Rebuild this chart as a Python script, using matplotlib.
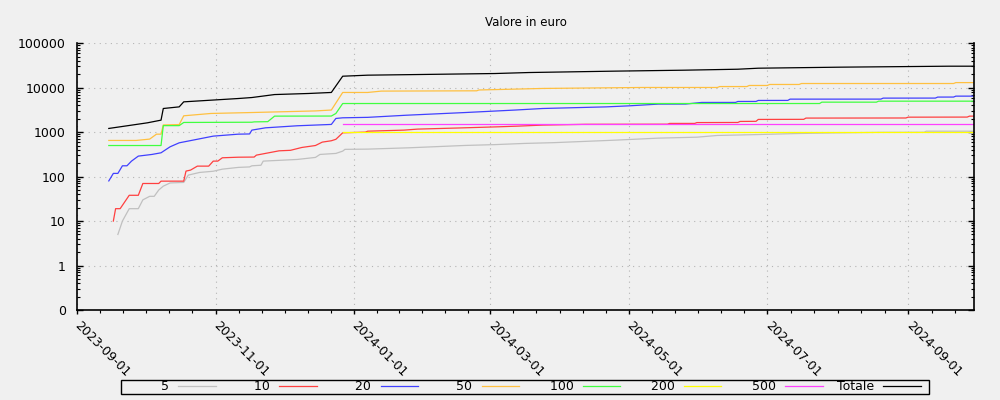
import matplotlib
matplotlib.use("Agg")
import matplotlib.pyplot as plt
import matplotlib.dates as mdates
from matplotlib.patches import Rectangle
from matplotlib.ticker import FixedLocator, LogLocator, NullFormatter
import numpy as np
import pandas as pd

BG = "#f0f0f0"

# valori (euro cumulati per taglio)
dates_5 = ["2023-09-19", "2023-09-21", "2023-09-24", "2023-09-28", "2023-09-30", "2023-10-03",
           "2023-10-05", "2023-10-07", "2023-10-09", "2023-10-12", "2023-10-18", "2023-10-20",
           "2023-10-25", "2023-10-31", "2023-11-04", "2023-11-11", "2023-11-16", "2023-11-17",
           "2023-11-21", "2023-11-22", "2023-12-07", "2023-12-15", "2023-12-17", "2023-12-24",
           "2023-12-27", "2023-12-28", "2024-01-07", "2024-01-25", "2024-02-19", "2024-03-03",
           "2024-03-16", "2024-03-29", "2024-04-25", "2024-05-14", "2024-05-31", "2024-06-09",
           "2024-06-26", "2024-07-14", "2024-07-30", "2024-08-20", "2024-09-08", "2024-09-09",
           "2024-09-30"]
vals_5 = [5, 10, 19, 19, 30, 36, 36, 50, 61, 72, 74, 108, 124, 132, 147, 161, 165, 175, 180, 223,
          243, 270, 315, 332, 374, 410, 415, 444, 502, 524, 557, 580, 660, 733, 770, 842, 880,
          930, 960, 990, 995, 1050, 1050]

dates_10 = ["2023-09-17", "2023-09-18", "2023-09-20", "2023-09-24", "2023-09-28", "2023-09-30",
            "2023-10-07", "2023-10-08", "2023-10-18", "2023-10-19", "2023-10-21", "2023-10-24",
            "2023-10-29", "2023-10-31", "2023-11-02", "2023-11-04", "2023-11-11", "2023-11-18",
            "2023-11-19", "2023-11-29", "2023-12-04", "2023-12-09", "2023-12-15", "2023-12-18",
            "2023-12-22", "2023-12-24", "2023-12-27", "2024-01-06", "2024-01-07", "2024-01-23",
            "2024-01-29", "2024-02-16", "2024-03-05", "2024-03-14", "2024-03-24", "2024-04-12",
            "2024-05-18", "2024-05-19", "2024-05-30", "2024-05-31", "2024-06-18", "2024-06-19",
            "2024-06-26", "2024-06-27", "2024-07-17", "2024-07-18", "2024-08-31", "2024-09-01",
            "2024-09-27", "2024-09-28", "2024-09-30"]
vals_10 = [10, 19, 19, 38, 38, 70, 70, 79, 79, 133, 140, 172, 172, 223, 223, 265, 273, 275, 304,
           380, 390, 452, 500, 596, 640, 690, 965, 1000, 1050, 1110, 1170, 1240, 1320, 1370, 1440,
           1500, 1510, 1570, 1570, 1640, 1650, 1740, 1750, 1930, 1940, 2070, 2080, 2170, 2180,
           2290, 2290]

dates_20 = ["2023-09-15", "2023-09-17", "2023-09-19", "2023-09-21", "2023-09-23", "2023-09-25",
            "2023-09-28", "2023-10-04", "2023-10-08", "2023-10-12", "2023-10-16", "2023-10-22",
            "2023-10-31", "2023-11-11", "2023-11-16", "2023-11-17", "2023-11-23", "2023-12-07",
            "2023-12-22", "2023-12-24", "2023-12-27", "2024-01-07", "2024-01-24", "2024-02-19",
            "2024-03-12", "2024-03-24", "2024-04-21", "2024-05-01", "2024-05-14", "2024-05-26",
            "2024-06-02", "2024-06-17", "2024-06-18", "2024-06-26", "2024-06-27", "2024-07-10",
            "2024-07-11", "2024-08-20", "2024-08-21", "2024-09-13", "2024-09-14", "2024-09-21",
            "2024-09-22", "2024-09-30"]
vals_20 = [80, 118, 118, 175, 175, 223, 289, 315, 343, 468, 575, 660, 813, 900, 910, 1110, 1250,
           1390, 1490, 2030, 2100, 2150, 2400, 2760, 3140, 3400, 3700, 3900, 4270, 4280, 4650,
           4660, 4890, 4900, 5160, 5170, 5520, 5530, 5820, 5830, 6140, 6150, 6450, 6450]

dates_50 = ["2023-09-15", "2023-09-27", "2023-10-03", "2023-10-06", "2023-10-08", "2023-10-09",
            "2023-10-16", "2023-10-18", "2023-10-30", "2023-11-17", "2023-12-15", "2023-12-22",
            "2023-12-27", "2024-01-07", "2024-01-13", "2024-02-24", "2024-02-25", "2024-03-09",
            "2024-03-24", "2024-05-07", "2024-06-09", "2024-06-10", "2024-06-22", "2024-06-23",
            "2024-07-01", "2024-07-02", "2024-07-15", "2024-07-16", "2024-09-21", "2024-09-22",
            "2024-09-30"]
vals_50 = [650, 650, 697, 900, 900, 1450, 1480, 2330, 2630, 2760, 3000, 3140, 7800, 7800, 8370,
           8500, 8870, 9200, 9600, 10100, 10100, 10600, 10600, 11200, 11200, 11800, 11800, 12400,
           12400, 13000, 13000]

dates_100 = ["2023-09-15", "2023-10-08", "2023-10-09", "2023-10-16", "2023-10-18", "2023-11-17",
             "2023-11-18", "2023-11-24", "2023-11-27", "2023-12-22", "2023-12-24", "2023-12-27",
             "2024-07-24", "2024-07-25", "2024-08-18", "2024-08-19", "2024-09-30"]
vals_100 = [500, 500, 1400, 1400, 1650, 1670, 1700, 1720, 2290, 2300, 2630, 4400, 4400, 4720,
            4720, 4970, 4970]

dates_200 = ["2023-12-27", "2024-09-30"]
vals_200 = [1000, 1000]

dates_500 = ["2023-12-27", "2024-09-30"]
vals_500 = [1500, 1500]

dates_tot = ["2023-09-15", "2023-09-25", "2023-10-02", "2023-10-08", "2023-10-09", "2023-10-16",
             "2023-10-18", "2023-11-11", "2023-11-17", "2023-11-27", "2023-12-12", "2023-12-22",
             "2023-12-27", "2024-01-07", "2024-01-31", "2024-03-03", "2024-03-18", "2024-04-24",
             "2024-05-25", "2024-06-18", "2024-06-27", "2024-08-02", "2024-09-19", "2024-09-30"]
vals_tot = [1210, 1436, 1620, 1860, 3400, 3700, 4800, 5700, 6000, 7000, 7400, 7800, 18100, 19100,
            19800, 20800, 21900, 23500, 24700, 26000, 27400, 28900, 30400, 30400]

labels = ["5", "10", "20", "50", "100", "200", "500", "Totale"]
colors = ["#c0c0c0", "#ff4040", "#4040ff", "#ffc040", "#40ff40", "#ffff00", "#ff40ff", "#000000"]
series = [(dates_5, vals_5), (dates_10, vals_10), (dates_20, vals_20), (dates_50, vals_50),
          (dates_100, vals_100), (dates_200, vals_200), (dates_500, vals_500),
          (dates_tot, vals_tot)]

y_ticks = [0.1, 1, 10, 100, 1000, 10000, 100000]
y_labels = ["0", "1", "10", "100", "1000", "10000", "100000"]

fig = plt.figure(figsize=(10, 4), dpi=100, facecolor=BG)
ax = fig.add_axes([0.077, 0.225, 0.897, 0.667], facecolor=BG)

handles = []
for (d, v), lab, col in zip(series, labels, colors):
    line, = ax.plot(pd.to_datetime(d), v, color=col, linewidth=0.9, label=lab)
    handles.append(line)

ax.set_yscale("log")
ax.set_ylim(0.1, 100000)
ax.set_xlim(pd.Timestamp("2023-09-01"), pd.Timestamp("2024-09-30"))

ax.yaxis.set_major_locator(FixedLocator(y_ticks))
ax.set_yticklabels(y_labels)
ax.yaxis.set_minor_locator(LogLocator(base=10, subs=np.arange(2, 10)))
ax.yaxis.set_minor_formatter(NullFormatter())

# tacche principali ogni due mesi, secondarie divise in 6
majors = mdates.date2num(pd.date_range("2023-09-01", "2024-09-01", freq="2MS"))
minors = []
for a, b in zip(majors[:-1], majors[1:]):
    minors.extend(np.linspace(a, b, 7)[1:-1])
step = (majors[-1] - majors[-2]) / 6
minors.extend([majors[-1] + step, majors[-1] + 2 * step])
ax.xaxis.set_major_locator(FixedLocator(majors))
ax.xaxis.set_minor_locator(FixedLocator(minors))
ax.xaxis.set_major_formatter(mdates.DateFormatter("%Y-%m-%d"))

for lbl in ax.get_xticklabels():
    lbl.set_rotation(-45)
    lbl.set_ha("left")
    lbl.set_va("center")
    lbl.set_rotation_mode("anchor")

ax.tick_params(axis="y", which="both", direction="in", left=True, right=True, labelsize=9, pad=8)
ax.tick_params(axis="y", which="major", length=4, width=1)
ax.tick_params(axis="y", which="minor", length=2, width=0.8)
ax.tick_params(axis="x", which="both", direction="out", top=False, labelsize=9, pad=6.5)
ax.tick_params(axis="x", which="major", length=3, width=1)
ax.tick_params(axis="x", which="minor", length=2, width=0.8)

ax.spines["top"].set_visible(False)
for s in ["left", "right", "bottom"]:
    ax.spines[s].set_linewidth(1.2)

ax.grid(True, which="major", color="#b4b4b4", linestyle=(0, (1, 4)), linewidth=0.8)

fig.text(0.526, 1 - 22 / 400, "Valore in euro", ha="center", va="center", fontsize=8.5)

# riquadro della legenda, più largo delle voci come nell'originale
fig.add_artist(Rectangle((0.121, 0.015), 0.808, 0.035, transform=fig.transFigure,
                         facecolor=BG, edgecolor="black", linewidth=1.0, zorder=2))

# etichette allineate a destra (spazi di cifra davanti)
FS = "\u2007"
leg_labels = [FS * max(0, 5 - len(lab)) + lab if lab != "Totale" else lab for lab in labels]
leg = fig.legend(handles, leg_labels, loc="center", bbox_to_anchor=(0.129, 0.015, 0.792, 0.035),
                 mode="expand", ncol=8, markerfirst=False, frameon=False, fontsize=9,
                 handlelength=3.0, handletextpad=0.75, borderpad=0.0, borderaxespad=0)
leg.set_zorder(3)

fig.savefig("out.png", dpi=100, facecolor=BG)
plt.close(fig)
